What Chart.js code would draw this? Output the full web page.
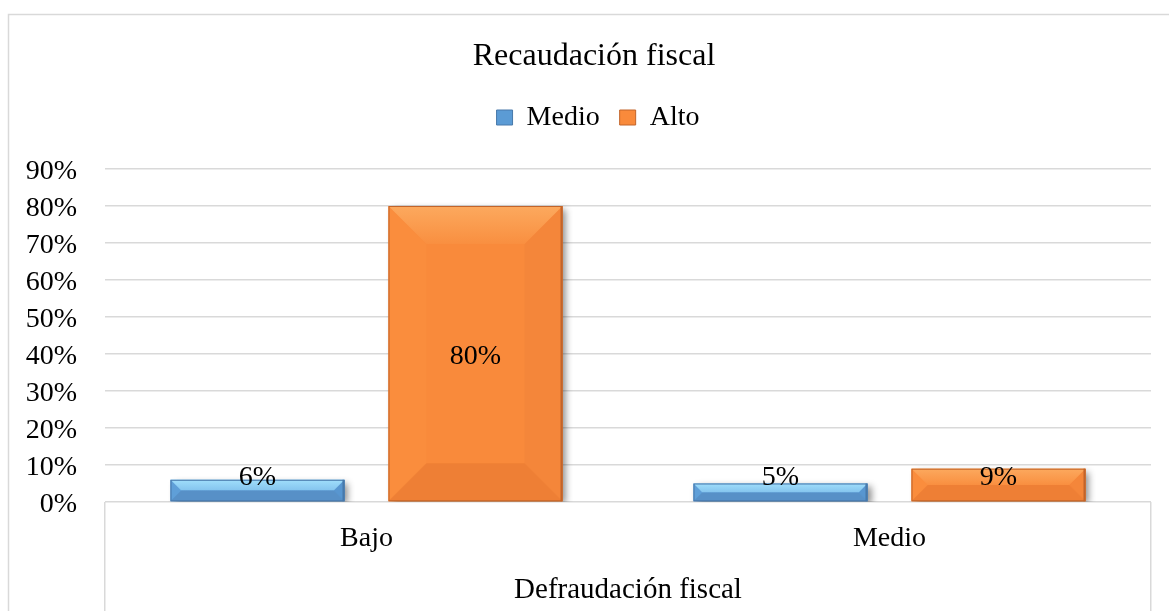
<!DOCTYPE html>
<html>
<head>
<meta charset="utf-8">
<script src="https://cdn.jsdelivr.net/npm/chart.js@4.4.1/dist/chart.umd.min.js"></script>
<style>
  html, body { margin: 0; padding: 0; background: #ffffff; }
  #wrap { width: 1169px; height: 611px; position: relative; }
</style>
</head>
<body>
<div id="wrap"><canvas id="c" width="1169" height="611"></canvas></div>
<script>
// ---- data ----
const categories = ['Bajo', 'Medio'];
const seriesNames = ['Medio', 'Alto'];
const medioValues = [0.06, 0.05];
const altoValues = [0.80, 0.09];
const yTickValues = [0, 0.1, 0.2, 0.3, 0.4, 0.5, 0.6, 0.7, 0.8, 0.9];
const chartTitle = 'Recaudación fiscal';
const xAxisTitle = 'Defraudación fiscal';

const SERIF = "'Liberation Serif', 'Times New Roman', serif";

const palettes = [
  { face: '#5B9BD5', topLight: '#A0DEFB', topInner: '#84C4EE', bottom: '#5790C7', left: '#5F9FD8', right: '#5896D0', outline: '#4879AB' },
  { face: '#F98A3B', topLight: '#FCA95E', topInner: '#F98F40', bottom: '#EE7F35', left: '#FA8D3D', right: '#F4863A', outline: '#C2642A' }
];

const frameGrid = {
  id: 'frameGrid',
  beforeDraw(chart) {
    const ctx = chart.ctx;
    ctx.save();
    ctx.strokeStyle = '#D9D9D9';
    ctx.lineWidth = 1.5;
    ctx.strokeRect(8.5, 14.5, 1400, 800);
    ctx.restore();
  }
};

// shift the centred title and legend slightly to the right, as in the reference
const centreShift = {
  id: 'centreShift',
  afterLayout(chart) {
    if (chart.titleBlock) { chart.titleBlock.left += 6.5; chart.titleBlock.right += 6.5; }
    if (chart.legend) { chart.legend.left += 10.5; chart.legend.right += 10.5; }
  }
};

const bevelBars = {
  id: 'bevelBars',
  beforeDatasetsDraw(chart) {
    const ctx = chart.ctx;
    ctx.save();
    ctx.shadowColor = 'rgba(0,0,0,0.45)';
    ctx.shadowBlur = 7;
    ctx.shadowOffsetX = 4;
    ctx.shadowOffsetY = 3;
  },
  afterDatasetsDraw(chart) {
    const ctx = chart.ctx;
    ctx.restore();
    chart.data.datasets.forEach((ds, di) => {
      const meta = chart.getDatasetMeta(di);
      const pal = palettes[di];
      meta.data.forEach((el, i) => {
        const p = el.getProps(['x', 'y', 'base', 'width'], true);
        const l = p.x - p.width / 2, r = p.x + p.width / 2;
        const t = Math.min(p.y, p.base), bt = Math.max(p.y, p.base);
        const h = bt - t;
        const b = Math.min(38, h / 2, p.width / 2);
        ctx.save();
        ctx.fillStyle = pal.left;
        ctx.beginPath();
        ctx.moveTo(l, t); ctx.lineTo(l + b, t + b); ctx.lineTo(l + b, bt - b); ctx.lineTo(l, bt); ctx.closePath(); ctx.fill();
        ctx.fillStyle = pal.right;
        ctx.beginPath();
        ctx.moveTo(r, t); ctx.lineTo(r - b, t + b); ctx.lineTo(r - b, bt - b); ctx.lineTo(r, bt); ctx.closePath(); ctx.fill();
        const gt = ctx.createLinearGradient(0, t, 0, t + b);
        gt.addColorStop(0, pal.topLight);
        gt.addColorStop(1, pal.topInner);
        ctx.fillStyle = gt;
        ctx.beginPath();
        ctx.moveTo(l, t); ctx.lineTo(r, t); ctx.lineTo(r - b, t + b); ctx.lineTo(l + b, t + b); ctx.closePath(); ctx.fill();
        ctx.fillStyle = pal.bottom;
        ctx.beginPath();
        ctx.moveTo(l, bt); ctx.lineTo(r, bt); ctx.lineTo(r - b, bt - b); ctx.lineTo(l + b, bt - b); ctx.closePath(); ctx.fill();
        ctx.strokeStyle = pal.outline;
        ctx.lineWidth = 1;
        ctx.strokeRect(l + 0.5, t + 0.5, p.width - 1, h - 1);
        ctx.fillStyle = pal.outline;
        ctx.fillRect(r - 2, t, 2, h);
        ctx.restore();

        // data label
        const v = ds.data[i];
        const ly = Math.min((t + bt) / 2, bt - 27) + 3;
        ctx.save();
        ctx.font = '28px ' + SERIF;
        ctx.fillStyle = '#000000';
        ctx.textAlign = 'center';
        ctx.textBaseline = 'middle';
        ctx.fillText(Math.round(v * 100) + '%', p.x, ly);
        ctx.restore();
      });
    });
  }
};

new Chart(document.getElementById('c'), {
  type: 'bar',
  data: {
    labels: categories,
    datasets: [
      { label: seriesNames[0], data: medioValues, backgroundColor: palettes[0].face, borderWidth: 0,
        categoryPercentage: 0.8337, barPercentage: 0.798 },
      { label: seriesNames[1], data: altoValues, backgroundColor: palettes[1].face, borderWidth: 0,
        categoryPercentage: 0.8337, barPercentage: 0.798 }
    ]
  },
  options: {
    responsive: false,
    animation: false,
    devicePixelRatio: 1,
    layout: { padding: { left: 24, right: 18, top: 0, bottom: 0 } },
    plugins: {
      title: {
        display: true,
        text: chartTitle,
        color: '#000000',
        font: { family: SERIF, size: 32, weight: 'normal', lineHeight: 1.2 },
        padding: { top: 37.8, bottom: 7.3 }
      },
      legend: {
        display: true,
        position: 'top',
        labels: {
          color: '#000000',
          font: { family: SERIF, size: 28 },
          boxWidth: 16,
          boxHeight: 15,
          padding: 20,
          generateLabels(chart) {
            return chart.data.datasets.map((ds, i) => ({
              text: ds.label,
              fillStyle: palettes[i].face,
              strokeStyle: palettes[i].outline,
              lineWidth: 1,
              hidden: false,
              datasetIndex: i
            }));
          }
        }
      },
      subtitle: {
        display: true,
        text: '',
        weight: 500,
        font: { size: 10, lineHeight: 1.2 },
        padding: { top: 15.5, bottom: 0 }
      },
      tooltip: { enabled: false }
    },
    scales: {
      x: {
        offset: true,
        grid: {
          display: true,
          drawOnChartArea: false,
          drawTicks: true,
          tickLength: 109,
          lineWidth: 1.5,
          color: (ctx) => (ctx.index === 1 ? 'rgba(0,0,0,0)' : '#D9D9D9')
        },
        border: { display: false },
        ticks: {
          color: '#000000',
          font: { family: SERIF, size: 28 },
          padding: -89,
          maxRotation: 0
        },
        title: {
          display: true,
          text: xAxisTitle,
          color: '#000000',
          font: { family: SERIF, size: 29, lineHeight: 1.2 },
          padding: { top: 0, bottom: 3 }
        },
        afterFit(scale) { scale.height = 109; }
      },
      y: {
        min: 0,
        max: 0.9,
        grid: { color: '#D9D9D9', lineWidth: 1.5, drawTicks: false },
        border: { display: false },
        afterBuildTicks(scale) { scale.ticks = yTickValues.map(v => ({ value: v })); },
        ticks: {
          color: '#000000',
          font: { family: SERIF, size: 28 },
          padding: 28,
          labelOffset: 3,
          callback: (v) => Math.round(v * 100) + '%'
        },
        afterFit(scale) { scale.width = 81; }
      }
    }
  },
  plugins: [frameGrid, centreShift, bevelBars]
});
</script>
</body>
</html>
